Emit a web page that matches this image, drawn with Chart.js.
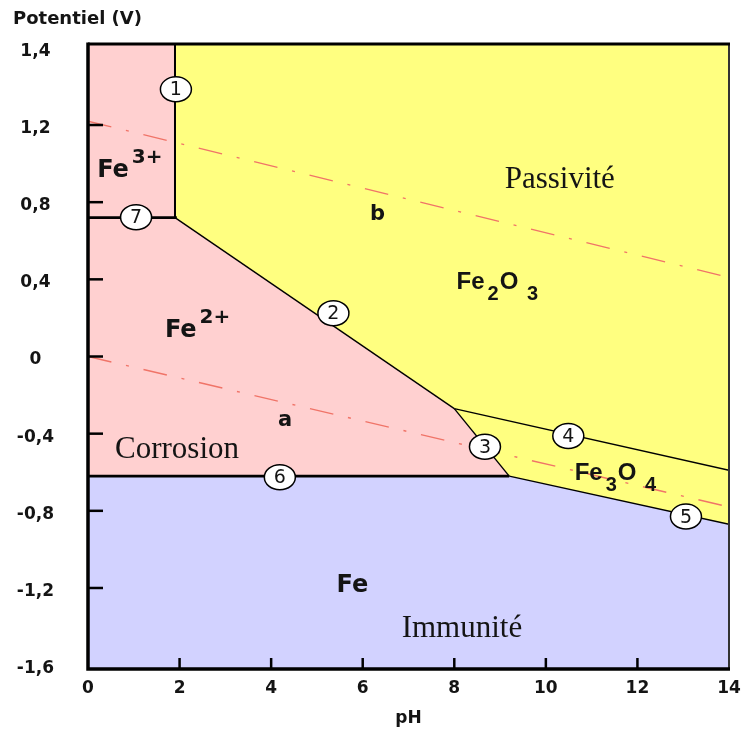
<!DOCTYPE html>
<html lang="fr">
<head>
<meta charset="utf-8">
<title>Diagramme potentiel-pH du fer</title>
<script src="https://cdn.jsdelivr.net/npm/chart.js@4.4.1/dist/chart.umd.min.js"></script>
<style>
  html, body { margin: 0; padding: 0; background: #fff; }
  #cadre { width: 742px; height: 733px; }
</style>
</head>
<body>
<div id="cadre"><canvas id="diagramme"></canvas></div>
<script>
// bornes du diagramme
const phMin = 0, phMax = 14;
const eMin = -1.62, eMax = 1.62;

// graduations (etiquettes de E reprises telles quelles de la figure d'origine)
const graduationsPH = [0, 2, 4, 6, 8, 10, 12, 14];
const etiquettesPH = ["0", "2", "4", "6", "8", "10", "12", "14"];
const graduationsE = [-1.6, -1.2, -0.8, -0.4, 0, 0.4, 0.8, 1.2, 1.6];
const etiquettesE = ["-1,6", "-1,2", "-0,8", "-0,4", "0", "0,4", "0,8", "1,2", "1,4"];

// domaines, points [pH, E]
const domaineIons = [[0, 1.62], [1.9, 1.62], [1.9, 0.72], [8, -0.27], [9.2, -0.62], [0, -0.62]];
const domaineOxydes = [[1.9, 1.62], [14, 1.62], [14, -0.87], [9.2, -0.62], [8, -0.27], [1.9, 0.72]];
const domaineFer = [[0, -0.62], [9.2, -0.62], [14, -0.87], [14, -1.62], [0, -1.62]];

// frontieres numerotees
const frontiere1 = [[1.9, 1.62], [1.9, 0.72]];
const frontiere2 = [[1.9, 0.72], [8, -0.27]];
const frontiere3 = [[8, -0.27], [9.2, -0.62]];
const frontiere4 = [[8, -0.27], [14, -0.59]];
const frontiere5 = [[9.2, -0.62], [14, -0.87]];
const frontiere6 = [[0, -0.62], [9.2, -0.62]];
const frontiere7 = [[0, 0.72], [1.94, 0.72]];

// droites de stabilite de l'eau
const droiteA = [[0, 0], [14, -0.78]];
const droiteB = [[0, 1.22], [14, 0.41]];

// numeros des frontieres
const numeros = ["1", "7", "2", "3", "4", "5", "6"];
const numerosPH = [1.92, 1.05, 5.36, 8.67, 10.49, 13.06, 4.19];
const numerosE = [1.385, 0.722, 0.224, -0.468, -0.412, -0.83, -0.626];

// noms des especes : morceaux [texte, 0 normal / 1 indice / 2 exposant]
const especes = [
  { morceaux: [["Fe", 0], ["3+", 2]], ph: 0.2, e: 0.93, police: "DejaVu Sans" },
  { morceaux: [["Fe", 0], ["2+", 2]], ph: 1.68, e: 0.103, police: "DejaVu Sans" },
  { morceaux: [["Fe", 0], ["2", 1], ["O", 0], [" 3", 1]], ph: 8.05, e: 0.348, police: "Liberation Sans" },
  { morceaux: [["Fe", 0], ["3", 1], ["O", 0], [" 4", 1]], ph: 10.63, e: -0.64, police: "Liberation Sans" },
  { morceaux: [["Fe", 0]], ph: 5.43, e: -1.22, police: "DejaVu Sans" },
  { morceaux: [["b", 0]], ph: 6.16, e: 0.708, police: "DejaVu Sans", taille: 21 },
  { morceaux: [["a", 0]], ph: 4.15, e: -0.36, police: "DejaVu Sans", taille: 21 }
];
const zones = [
  { texte: "Passivité", ph: 9.1, e: 0.872 },
  { texte: "Corrosion", ph: 0.59, e: -0.528 },
  { texte: "Immunité", ph: 6.85, e: -1.456 }
];

const enPoints = tab => tab.map(p => ({ x: p[0], y: p[1] }));

function domaine(tab, couleur) {
  return { data: enPoints(tab), backgroundColor: couleur, borderWidth: 0, pointRadius: 0, fill: "shape", order: 10 };
}
function frontiere(tab, epaisseur) {
  return { data: enPoints(tab), borderColor: "#000", borderWidth: epaisseur, pointRadius: 0, fill: false, order: 2 };
}
function droite(tab) {
  return { data: enPoints(tab), borderColor: "#f07468", borderWidth: 1.4, borderDash: [24, 15, 3, 15], pointRadius: 0, fill: false, order: 5 };
}

function dessinerMorceaux(ctx, item, x, y) {
  const taille = item.taille || 24;
  let cx = x;
  for (const [t, mode] of item.morceaux) {
    const t2 = mode === 0 ? taille : Math.round(taille * 0.84);
    ctx.font = `bold ${t2}px "${item.police}"`;
    const dy = mode === 1 ? taille * 0.45 : mode === 2 ? -taille * 0.58 : 0;
    ctx.fillText(t, cx, y + dy);
    cx += ctx.measureText(t).width + (mode === 0 ? 3 : 1);
  }
}

// cadre, graduations interieures, textes et numeros
const habillage = {
  id: "habillage",
  afterDatasetsDraw(chart) {
    const { ctx, chartArea: a, scales: { x, y } } = chart;
    ctx.save();

    ctx.strokeStyle = "#000";
    ctx.lineCap = "butt";
    ctx.lineWidth = 2.5;
    graduationsE.slice(1, -1).forEach(v => {
      const py = y.getPixelForValue(v);
      ctx.beginPath(); ctx.moveTo(a.left, py); ctx.lineTo(a.left + 15, py); ctx.stroke();
    });
    graduationsPH.slice(1, -1).forEach(v => {
      const px = x.getPixelForValue(v);
      ctx.beginPath(); ctx.moveTo(px, a.bottom); ctx.lineTo(px, a.bottom - 11); ctx.stroke();
    });

    ctx.lineWidth = 2;
    ctx.strokeStyle = "#333";
    ctx.beginPath(); ctx.moveTo(a.right, a.top); ctx.lineTo(a.right, a.bottom); ctx.stroke();
    ctx.strokeStyle = "#000";
    ctx.lineWidth = 3;
    ctx.beginPath(); ctx.moveTo(a.left, a.top); ctx.lineTo(a.right + 1, a.top); ctx.stroke();
    ctx.lineWidth = 3.5;
    ctx.beginPath();
    ctx.moveTo(a.left, a.top - 1.5); ctx.lineTo(a.left, a.bottom); ctx.lineTo(a.right + 1, a.bottom);
    ctx.stroke();

    ctx.fillStyle = "#141414";
    ctx.textAlign = "left";
    ctx.textBaseline = "alphabetic";
    especes.forEach(it => dessinerMorceaux(ctx, it, x.getPixelForValue(it.ph), y.getPixelForValue(it.e)));

    ctx.font = '31px "Liberation Serif"';
    zones.forEach(z => ctx.fillText(z.texte, x.getPixelForValue(z.ph), y.getPixelForValue(z.e)));

    numeros.forEach((n, i) => {
      const px = x.getPixelForValue(numerosPH[i]);
      const py = y.getPixelForValue(numerosE[i]);
      ctx.beginPath();
      ctx.ellipse(px, py, 15.5, 12.5, 0, 0, Math.PI * 2);
      ctx.fillStyle = "#fff";
      ctx.fill();
      ctx.lineWidth = 1.5;
      ctx.strokeStyle = "#000";
      ctx.stroke();
      ctx.fillStyle = "#141414";
      ctx.font = '19px "DejaVu Sans"';
      ctx.textAlign = "center";
      ctx.textBaseline = "middle";
      ctx.fillText(n, px, py + 1);
    });

    ctx.textAlign = "left";
    ctx.textBaseline = "alphabetic";
    ctx.font = 'bold 18px "DejaVu Sans"';
    ctx.fillText("Potentiel (V)", 13, 24);
    ctx.restore();
  }
};

const policeAxe = { family: "DejaVu Sans", size: 17, weight: "bold" };

new Chart(document.getElementById("diagramme"), {
  type: "line",
  data: {
    datasets: [
      domaine(domaineIons, "#ffd0d0"),
      domaine(domaineOxydes, "#ffff80"),
      domaine(domaineFer, "#d2d2ff"),
      droite(droiteA),
      droite(droiteB),
      frontiere(frontiere1, 2),
      frontiere(frontiere2, 1.4),
      frontiere(frontiere3, 1.4),
      frontiere(frontiere4, 1.4),
      frontiere(frontiere5, 1.4),
      frontiere(frontiere6, 2.8),
      frontiere(frontiere7, 2.8)
    ]
  },
  options: {
    responsive: true,
    maintainAspectRatio: false,
    animation: false,
    events: [],
    layout: { padding: { left: 0, right: 13, top: 44, bottom: 0 } },
    plugins: { legend: { display: false }, tooltip: { enabled: false } },
    scales: {
      x: {
        type: "linear",
        min: phMin, max: phMax,
        afterBuildTicks: s => { s.ticks = graduationsPH.map(v => ({ value: v })); },
        afterFit: s => { s.height = 64; s.paddingLeft = 0; s.paddingRight = 0; },
        grid: { display: false, drawTicks: false },
        border: { display: false },
        ticks: {
          autoSkip: false, maxRotation: 0, padding: 9, color: "#141414", font: policeAxe,
          callback: v => etiquettesPH[graduationsPH.indexOf(v)]
        },
        title: { display: true, text: "pH", color: "#141414", font: policeAxe, padding: { top: 0, bottom: 4 } }
      },
      y: {
        type: "linear",
        min: eMin, max: eMax,
        afterBuildTicks: s => { s.ticks = graduationsE.map(v => ({ value: v })); },
        afterFit: s => { s.width = 88; s.paddingTop = 0; s.paddingBottom = 0; },
        grid: { display: false, drawTicks: false },
        border: { display: false },
        ticks: {
          autoSkip: false, padding: 34, crossAlign: "center", color: "#141414",
          font: { family: "DejaVu Sans", size: 17, weight: "bold", lineHeight: 0.42 },
          // ligne vide devant : decale l'etiquette de quelques pixels vers le bas, comme sur la figure
          callback: v => ["", etiquettesE[graduationsE.findIndex(g => Math.abs(g - v) < 1e-6)]]
        }
      }
    }
  },
  plugins: [habillage]
});
</script>
</body>
</html>
